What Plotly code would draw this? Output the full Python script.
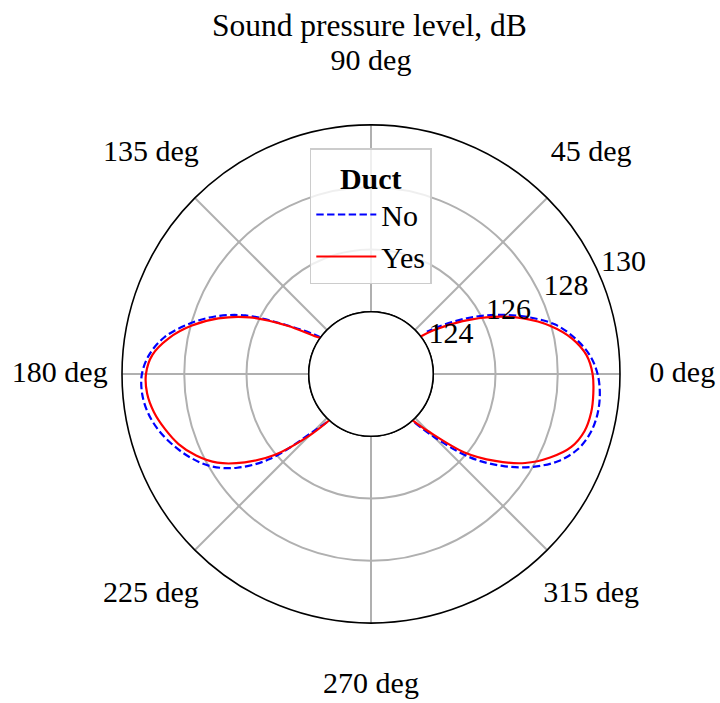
import plotly.graph_objects as go

# Polar directivity of sound pressure level (dB), read per angle in degrees.
# Values below the inner radial limit (124 dB) fall inside the hole and are left out.
angles_right = [-48, -45, -40, -35, -30, -25, -20, -15, -10, -5, 0, 5, 10, 15, 20, 25, 30, 35, 37]
spl_no_right = [124.1, 124.85, 126.18, 127.15, 127.97, 128.63, 129.07, 129.30, 129.39, 129.38,
                129.28, 129.05, 128.65, 128.13, 127.35, 126.50, 125.60, 124.65, 124.25]
spl_yes_right = [124.0, 124.6, 125.92, 126.87, 127.72, 128.35, 128.85, 129.10, 129.18, 129.17,
                 129.12, 128.95, 128.56, 127.97, 127.22, 126.35, 125.40, 124.45, 124.0]

angles_left = [144, 145, 150, 155, 160, 165, 170, 175, 180, 185, 190, 195, 200, 205, 210, 215, 220, 225, 228]
spl_no_left = [124.0, 124.2, 125.15, 126.45, 127.38, 128.12, 128.75, 129.15, 129.36, 129.38,
               129.27, 129.05, 128.74, 128.38, 127.93, 127.25, 126.25, 124.6, 124.0]
spl_yes_left = [123.9, 124.05, 125.1, 126.3, 127.22, 127.98, 128.6, 129.05, 129.23, 129.22,
                129.08, 128.85, 128.58, 128.2, 127.7, 126.95, 126.05, 124.8, 123.9]

radial_ticks = [124, 126, 128, 130]
radial_labels = [str(v) for v in radial_ticks]
angle_ticks = [0, 45, 90, 135, 180, 225, 270, 315]
angle_labels = [f"{a} deg" for a in angle_ticks]
r_min, r_max = 124, 130

RADIAL_LABEL_ANGLE = 22.5   # direction along which radial tick labels sit
R_CENTRE = 122.0            # radial value that would sit at the centre without the hole
ANGLE_LABEL_R = 132.0       # radius (same dB scale) where angle labels are centred

FONT = "Liberation Serif"
FS = 30

# main plot area (pixels of the 720x703 page): centre and outer radius
W, H = 720, 703
CX, CY, R_OUT = 371, 374, 249
R_LBL = R_OUT * (ANGLE_LABEL_R - R_CENTRE) / (r_max - R_CENTRE)


def square_domain(radius):
    return dict(x=[(CX - radius) / W, (CX + radius) / W],
                y=[(H - CY - radius) / H, (H - CY + radius) / H])


def lobes(a_right, v_right, a_left, v_left):
    # join the two lobes with a gap so the line breaks inside the hole
    return a_right + [None] + a_left, v_right + [None] + v_left


fig = go.Figure()

# inner boundary circle at the lower radial limit
circle_theta = list(range(0, 361, 2))
fig.add_trace(go.Scatterpolar(
    r=[r_min] * len(circle_theta), theta=circle_theta, mode="lines",
    line=dict(color="black", width=1.5), showlegend=False, hoverinfo="skip",
    cliponaxis=False,
))

th, rv = lobes(angles_right, spl_no_right, angles_left, spl_no_left)
fig.add_trace(go.Scatterpolar(
    r=rv, theta=th, mode="lines", name="No",
    line=dict(color="#0000ff", width=2.2, dash="7.4px,3.4px", shape="spline", smoothing=1),
    connectgaps=False,
))
th, rv = lobes(angles_right, spl_yes_right, angles_left, spl_yes_left)
fig.add_trace(go.Scatterpolar(
    r=rv, theta=th, mode="lines", name="Yes",
    line=dict(color="#ff0000", width=2.2, shape="spline", smoothing=1),
    connectgaps=False,
))

# radial tick labels
fig.add_trace(go.Scatterpolar(
    r=radial_ticks, theta=[RADIAL_LABEL_ANGLE] * len(radial_ticks),
    mode="text", text=radial_labels, textposition="top right",
    textfont=dict(family=FONT, size=FS, color="black"),
    showlegend=False, hoverinfo="skip", cliponaxis=False,
))
# angular tick labels, on a larger invisible polar frame sharing the same centre and scale
fig.add_trace(go.Scatterpolar(
    r=[ANGLE_LABEL_R] * len(angle_ticks), theta=angle_ticks, subplot="polar2",
    mode="text", text=angle_labels, textposition="middle center",
    textfont=dict(family=FONT, size=FS, color="black"),
    showlegend=False, hoverinfo="skip", cliponaxis=False,
))

hidden_radial = dict(range=[R_CENTRE, ANGLE_LABEL_R], visible=False, showgrid=False,
                     showline=False, showticklabels=False, ticks="")
hidden_angular = dict(rotation=0, direction="counterclockwise", visible=False,
                      showgrid=False, showline=False, showticklabels=False, ticks="")

fig.update_layout(
    width=W, height=H,
    margin=dict(l=0, r=0, t=0, b=0),
    paper_bgcolor="white",
    font=dict(family=FONT, size=FS, color="black"),
    title=dict(text="Sound pressure level, dB", x=0.513, xanchor="center",
               y=1 - 25 / H, yanchor="middle",
               font=dict(family=FONT, size=31.5, color="black")),
    polar2=dict(
        domain=square_domain(R_LBL),
        bgcolor="rgba(0,0,0,0)",
        radialaxis=hidden_radial,
        angularaxis=hidden_angular,
    ),
    polar=dict(
        domain=square_domain(R_OUT),
        bgcolor="white",
        hole=0.25,
        radialaxis=dict(
            range=[r_min, r_max], tickvals=radial_ticks, angle=RADIAL_LABEL_ANGLE,
            showline=False, ticks="", showticklabels=False,
            gridcolor="#b0b0b0", gridwidth=1.5,
        ),
        angularaxis=dict(
            rotation=0, direction="counterclockwise",
            tickvals=angle_ticks, ticks="", showticklabels=False,
            showline=True, linecolor="black", linewidth=1.6,
            gridcolor="#b0b0b0", gridwidth=1.5,
        ),
    ),
    legend=dict(
        title=dict(text="<b>Duct</b>", side="top center",
                   font=dict(family=FONT, size=FS, color="black")),
        x=0.515, xanchor="center", y=1 - 148 / H, yanchor="top",
        itemwidth=60,
        bgcolor="rgba(255,255,255,0.8)", bordercolor="#cccccc", borderwidth=1.5,
        font=dict(family=FONT, size=FS, color="black"),
    ),
)

fig.write_html("out.html")
